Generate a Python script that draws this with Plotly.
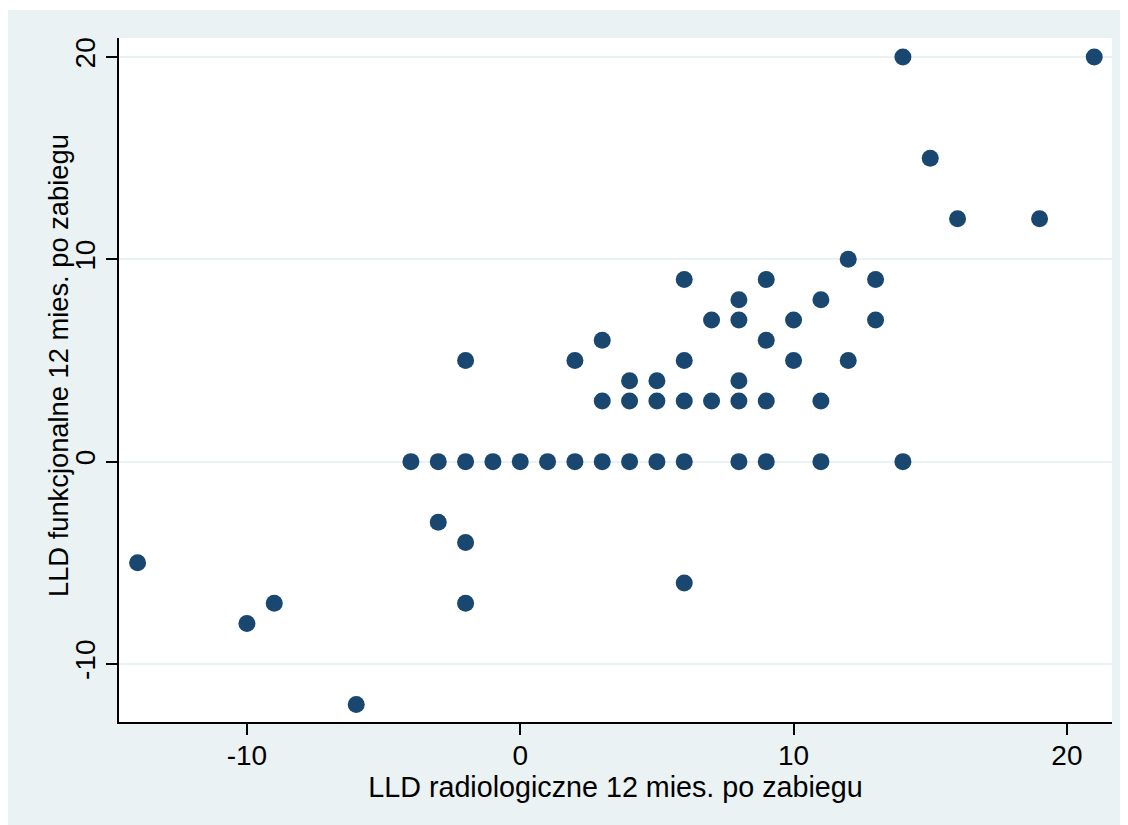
import plotly.graph_objects as go

# Data
x_radiol = [-14, -10, -9, -6, -4, -3, -3, -2, -2, -2, -2, -1, 0, 1, 2, 2,
            3, 3, 3, 4, 4, 4, 5, 5, 5, 6, 6, 6, 6, 6, 7, 7,
            8, 8, 8, 8, 8, 9, 9, 9, 9, 10, 10, 11, 11, 11, 12, 12,
            13, 13, 14, 14, 15, 16, 19, 21]
y_funkc = [-5, -8, -7, -12, 0, 0, -3, 0, 5, -4, -7, 0, 0, 0, 0, 5,
           0, 3, 6, 0, 3, 4, 0, 3, 4, 0, 3, 5, 9, -6, 3, 7,
           0, 3, 4, 7, 8, 0, 3, 6, 9, 5, 7, 0, 3, 8, 5, 10,
           7, 9, 0, 20, 15, 12, 12, 20]

x_ticks = [-10, 0, 10, 20]
y_ticks = [-10, 0, 10, 20]
x_title = "LLD radiologiczne 12 mies. po zabiegu"
y_title = "LLD funkcjonalne 12 mies. po zabiegu"

# page has an 8px default body margin, figure sits at (8, 8)
OFF = 8
W, H = 1128 - OFF, 825 - OFF
ML, MR, MT, MB = 119 - OFF, 16, 38 - OFF, 103
PW, PH = W - ML - MR, H - MT - MB

BG = "#EAF2F3"
NAVY = "#1A476F"
FONT = "Liberation Sans, Arial, sans-serif"
FS = 28
FS_XT = 28.7
FS_YT = 27.3


def px_to_paper_x(px):
    # px in page coordinates
    return (px - OFF - ML) / PW


def px_to_paper_y(py):
    return (H - MB - (py - OFF)) / PH


fig = go.Figure()
fig.add_trace(go.Scatter(
    x=x_radiol, y=y_funkc, mode="markers",
    marker=dict(size=17, color=NAVY, line=dict(width=0)),
    showlegend=False, hoverinfo="x+y",
))

axis_common = dict(
    showline=True, linecolor="black", linewidth=1.5,
    ticks="outside", ticklen=11, tickwidth=1.5, tickcolor="black",
    tickfont=dict(family=FONT, size=FS, color="black"),
    zeroline=False, mirror=False,
)

fig.update_xaxes(
    range=[-14.68, 21.65], tickvals=x_ticks, ticktext=[str(v) for v in x_ticks],
    showgrid=False, ticklabelstandoff=-3,
    title=dict(text=x_title, font=dict(family=FONT, size=FS_XT, color="black"), standoff=0),
    **axis_common,
)
fig.update_yaxes(
    range=[-12.87, 20.94], tickvals=y_ticks, ticktext=[str(v) for v in y_ticks],
    tickangle=-90,
    showgrid=True, gridcolor=BG, gridwidth=2,
    **axis_common,
)

fig.add_annotation(
    text=y_title, textangle=-90, showarrow=False,
    xref="paper", yref="paper",
    x=px_to_paper_x(58), y=px_to_paper_y(366),
    xanchor="center", yanchor="middle",
    font=dict(family=FONT, size=FS_YT, color="black"),
)

# thin white strip at the top, as in the reference image
fig.add_shape(type="rect", xref="paper", yref="paper", layer="above",
              x0=px_to_paper_x(0), x1=px_to_paper_x(1130),
              y0=px_to_paper_y(10), y1=px_to_paper_y(0),
              fillcolor="white", line=dict(width=0))

fig.update_layout(
    width=W, height=H,
    margin=dict(l=ML, r=MR, t=MT, b=MB, autoexpand=False),
    paper_bgcolor=BG, plot_bgcolor="white",
    font=dict(family=FONT, size=FS, color="black"),
)

fig.write_html("out.html")
